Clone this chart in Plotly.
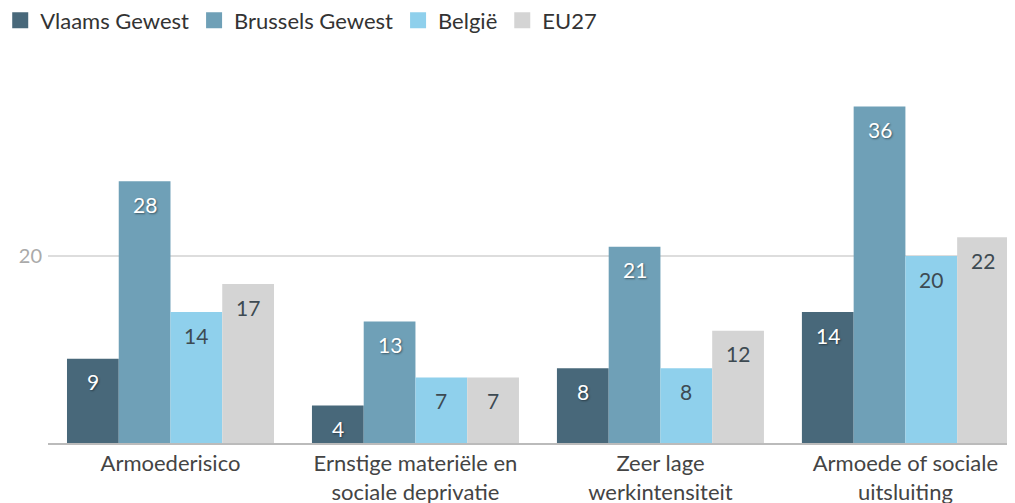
import plotly.graph_objects as go

categories = [
    "Armoederisico",
    "Ernstige materiële en<br>sociale deprivatie",
    "Zeer lage<br>werkintensiteit",
    "Armoede of sociale<br>uitsluiting",
]

series_names = ["Vlaams Gewest", "Brussels Gewest", "België", "EU27"]
vlaams = [9, 4, 8, 14]
brussels = [28, 13, 21, 36]
belgie = [14, 7, 8, 20]
eu27 = [17, 7, 12, 22]

colors = ["#48687a", "#6fa0b7", "#8fd0ec", "#d4d4d4"]
label_colors = ["#ffffff", "#ffffff", "#3d4a52", "#3d4a52"]

series = [vlaams, brussels, belgie, eu27]

BARGAP = 0.155

fig = go.Figure()

for name, vals, col in zip(series_names, series, colors):
    fig.add_trace(go.Bar(
        name=name,
        x=list(range(len(categories))),
        y=vals,
        marker=dict(color=col, line=dict(width=0)),
        showlegend=False,
        hoverinfo="skip",
    ))
    # legend entry with a bigger square
    fig.add_trace(go.Scatter(
        name=name,
        x=[None], y=[None],
        mode="markers",
        marker=dict(symbol="square", size=20, color=col),
    ))

# value labels just below the top of each bar
bar_w = (1 - BARGAP) / len(series)
for i, (vals, tc) in enumerate(zip(series, label_colors)):
    for j, v in enumerate(vals):
        fig.add_annotation(
            x=j + (i - (len(series) - 1) / 2) * bar_w,
            y=v,
            text=str(v),
            showarrow=False,
            yanchor="middle",
            yshift=-23,
            font=dict(
                size=21,
                color=tc,
                shadow="1px 1px 2px rgba(0,0,0,0.45)" if tc == "#ffffff" else "none",
            ),
        )

fig.update_layout(
    barmode="group",
    bargap=BARGAP,
    bargroupgap=0,
    width=1015,
    height=503,
    margin=dict(l=40, r=0, t=61, b=68, autoexpand=False),
    plot_bgcolor="white",
    paper_bgcolor="white",
    font=dict(family="Lato", size=22, color="#444444"),
    legend=dict(
        orientation="h",
        xref="paper", yref="paper",
        x=-0.049, y=1.186, xanchor="left", yanchor="top",
        font=dict(size=22, color="#333333"),
        itemclick=False,
    ),
    xaxis=dict(
        tickmode="array",
        tickvals=list(range(len(categories))),
        ticktext=categories,
        range=[-0.5, 3.48],
        showgrid=False,
        showline=True,
        linecolor="#bbbbbb",
        linewidth=2,
        ticks="",
        automargin=False,
        tickfont=dict(size=22, color="#444444"),
    ),
    yaxis=dict(
        range=[0, 40],
        tickvals=[20],
        showgrid=True,
        gridcolor="#dddddd",
        gridwidth=2,
        zeroline=False,
        showline=False,
        automargin=False,
        tickfont=dict(size=20, color="#aaaaaa"),
        ticklabelstandoff=5,
    ),
)

fig.write_html("out.html")
